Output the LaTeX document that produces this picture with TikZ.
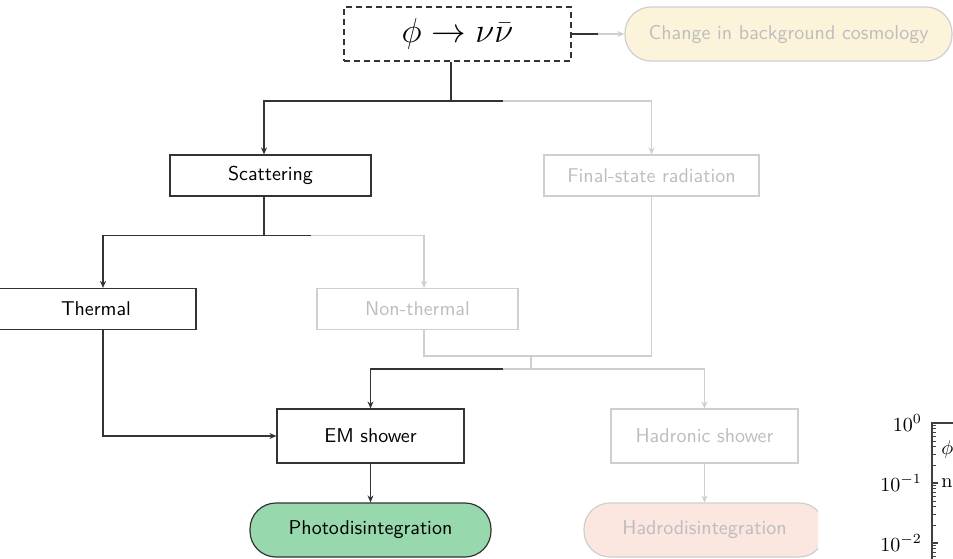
\documentclass[tikz,border=0pt]{standalone}
\usepackage{xcolor}
\usepackage{tikz}
\usetikzlibrary{arrows.meta, positioning, calc}

\definecolor{darkline}{HTML}{333333}
\definecolor{fadeline}{HTML}{CFCFCF}
\definecolor{fadetext}{HTML}{BDBDBD}
\definecolor{cosmofill}{HTML}{FCF3DB}
\definecolor{photofill}{HTML}{97D9AD}
\definecolor{hadrofill}{HTML}{FBE6E0}

\begin{document}
\begin{tikzpicture}[x=0.5pt, y=-0.5pt,
    box/.style={draw=darkline, semithick, minimum height=20.5pt, align=center, font=\sffamily},
    fadebox/.style={box, draw=fadeline, text=fadetext},
    pill/.style={rounded corners=13pt, minimum height=27pt},
    arr/.style={-{Stealth[length=3.5pt, width=3pt]}, semithick, draw=darkline},
    farr/.style={arr, draw=fadeline},
    ln/.style={semithick, draw=darkline},
    fln/.style={ln, draw=fadeline},
]
\useasboundingbox (0,0) rectangle (953,558);
\clip (0,0) rectangle (953,558);

% Decay
\node[box, dash pattern=on 3pt off 2pt, minimum width=113.5pt, minimum height=27pt,
    font=\fontsize{16}{19}\selectfont] (decay) at (457.5,34) {$\phi\to\nu\bar\nu$};
\node[fadebox, pill, fill=cosmofill, minimum width=163.5pt] (cosmo) at (788.5,34) {Change in background cosmology};

% Channels
\node[box, minimum width=100.5pt] (scat) at (270.5,175.5) {Scattering};
\node[fadebox, minimum width=107.5pt] (fsr) at (651.5,175.5) {Final-state radiation};
\node[box, minimum width=100pt] (thermal) at (96,309) {Thermal};
\node[fadebox, minimum width=100.5pt] (nonth) at (417.5,309) {Non-thermal};

% Showers
\node[box, minimum width=93.5pt, minimum height=27pt] (em) at (370.5,436) {EM shower};
\node[fadebox, minimum width=93.5pt, minimum height=27pt] (had) at (704.5,436) {Hadronic shower};

% Outcomes
\node[box, pill, fill=photofill, minimum width=120.5pt] (photo) at (370.5,530) {Photodisintegration};
\begin{scope}
    \clip (0,0) rectangle (818,558);
    \node[fadebox, pill, fill=hadrofill, minimum width=120.5pt] (hadro) at (704.5,530) {Hadrodisintegration};
\end{scope}

% Decay to cosmology
\coordinate (c0) at (598,34);
\draw[ln] (decay.east) -- (c0);
\draw[farr] (c0) -- (cosmo.west);

% Decay to channels
\coordinate (b1) at (451,101);
\coordinate (m1) at (503,101);
\draw[arr] (decay.south -| b1) -- (b1) -| ([xshift=-3.25pt]scat.north);
\draw[ln] (b1) -- (m1);
\draw[farr] (m1) -| (fsr.north);

% Scattering split
\coordinate (b2) at (264,235.5);
\coordinate (m2) at (311,235.5);
\draw[arr] ([xshift=-3.25pt]scat.south) -- (b2) -| ([xshift=3.5pt]thermal.north);
\draw[ln] (b2) -- (m2);
\draw[farr] (m2) -| ([xshift=3.25pt]nonth.north);

% Merge into showers
\coordinate (b3) at (531,356);
\coordinate (b4) at (531,369);
\coordinate (m4) at (503,369);
\draw[fln] ([xshift=3.25pt]nonth.south) |- (b3);
\draw[fln] (fsr.south) |- (b3);
\draw[fln] (b3) -- (b4) -- (m4);
\draw[arr] (m4) -| (em.north);
\draw[farr] (b4) -| (had.north);
\draw[arr] ([xshift=3.5pt]thermal.south) |- (em.west);

% Showers to outcomes
\draw[arr] (em) -- (photo);
\draw[farr] (had) -- (hadro);

% Plot fragment
\draw[black!75, semithick] (953,423) -- (932,423) -- (932,560);
\foreach \d in {0,1,2} {
    \draw[black!75, semithick] (932,{423+60*\d}) -- (938,{423+60*\d});
    \foreach \k in {2,...,9}
        \draw[black!75, thin] (932,{483+60*\d-60*ln(\k)/ln(10)}) -- (935.5,{483+60*\d-60*ln(\k)/ln(10)});
}
\node[anchor=east, font=\rmfamily] (t0) at (929,423) {$10^{0}$};
\node[anchor=east, font=\rmfamily] (t1) at (929,483) {$10^{-1}$};
\node[anchor=east, font=\rmfamily] (t2) at (929,543) {$10^{-2}$};
\node[anchor=west, inner sep=1pt, font=\rmfamily] (philbl) at (939,449) {$\phi$};
\node[anchor=west, inner sep=1pt, font=\rmfamily] (nlbl) at (939,483) {n};

\end{tikzpicture}
\end{document}
